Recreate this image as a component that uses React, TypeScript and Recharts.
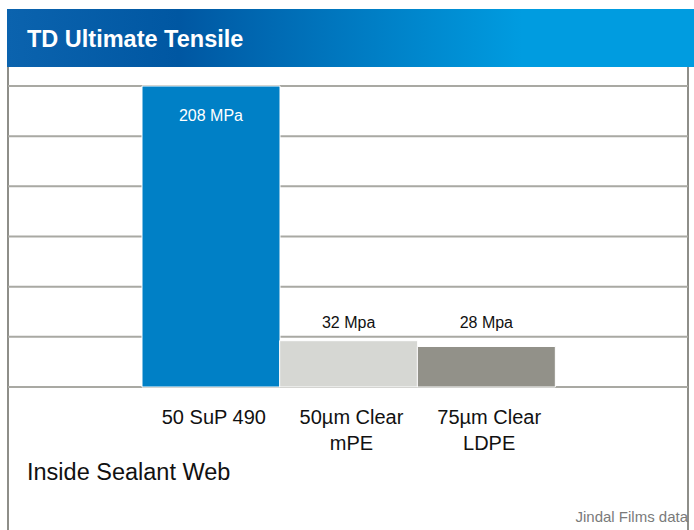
import { Bar, BarChart, CartesianGrid, Cell, LabelList, XAxis, YAxis } from 'recharts';

const categories = ['50 SuP 490', '50µm Clear\nmPE', '75µm Clear\nLDPE'];
const tensile = [208, 32, 28];
const valueLabels = ['208 MPa', '32 Mpa', '28 Mpa'];
const barColors = ['#0080c6', '#d6d7d3', '#929189'];
const gridSteps = 6;

const data = categories.map((name, i) => ({ name, value: tensile[i], label: valueLabels[i] }));
const maxValue = Math.max(...tensile);
const gridTicks = Array.from({ length: gridSteps + 1 }, (_, i) => (maxValue / gridSteps) * i);

const FONT = '"Liberation Sans", Arial, sans-serif';

// eslint-disable-next-line @typescript-eslint/no-explicit-any
function CategoryTick({ x, y, payload }: any) {
  const lines = String(payload.value).split('\n');
  return (
    <text x={x} y={y} textAnchor='middle' fontSize={20} fill='#111' fontFamily={FONT}>
      {lines.map((line, i) => (
        <tspan key={i} x={x + 3} dy={i === 0 ? 35 : 26}>
          {line}
        </tspan>
      ))}
    </text>
  );
}

// eslint-disable-next-line @typescript-eslint/no-explicit-any
function ValueLabel({ x, y, width, height, value }: any) {
  const inside = height > 150;
  const ty = inside ? y + 35 : y + height - 59;
  return (
    <text x={x + width / 2} y={ty} textAnchor='middle' fontSize={16} fill={inside ? '#fff' : '#111'} fontFamily={FONT}>
      {value}
    </text>
  );
}

export default function App() {
  return (
    <div style={{ position: 'absolute', left: 0, top: 0, width: 694, height: 530, background: '#fff', fontFamily: FONT }}>
      <div
        style={{
          position: 'absolute',
          left: 7,
          top: 9,
          width: 687,
          height: 58,
          background: 'linear-gradient(90deg, #0b63ae 0%, #0057a2 25%, #009ce0 75%, #009ce0 100%)',
        }}
      />
      <div style={{ position: 'absolute', left: 27, top: 25, color: '#fff', fontWeight: 'bold', fontSize: 23.5, lineHeight: '28px' }}>
        TD Ultimate Tensile
      </div>
      <div style={{ position: 'absolute', left: 7, top: 67, width: 2, height: 463, background: '#8e8e89' }} />
      <div style={{ position: 'absolute', left: 687, top: 67, width: 2, height: 463, background: '#8e8e89' }} />
      <div style={{ position: 'absolute', top: 0, left: 0 }}>
        <BarChart width={694} height={530} data={data} margin={{ top: 86, right: 6, bottom: 113, left: 8 }} barCategoryGap={0}>
          <CartesianGrid vertical={false} stroke='#a9a9a3' strokeWidth={2} />
          <YAxis hide domain={[0, maxValue]} ticks={gridTicks} width={0} />
          <XAxis
            dataKey='name'
            axisLine={false}
            tickLine={false}
            tickSize={0}
            interval={0}
            height={30}
            padding={{ left: 134, right: 133 }}
            tick={<CategoryTick />}
          />
          <Bar dataKey='value' isAnimationActive={false} stroke='#fff' strokeWidth={1}>
            {data.map((d, i) => (
              <Cell key={d.name} fill={barColors[i]} />
            ))}
            <LabelList dataKey='label' content={<ValueLabel />} />
          </Bar>
        </BarChart>
      </div>
      <div style={{ position: 'absolute', left: 27, top: 458, fontSize: 23.5, lineHeight: '28px', color: '#111' }}>
        Inside Sealant Web
      </div>
      <div style={{ position: 'absolute', right: 6, top: 507, fontSize: 15, lineHeight: '19px', color: '#7a7a7a' }}>
        Jindal Films data
      </div>
    </div>
  );
}
